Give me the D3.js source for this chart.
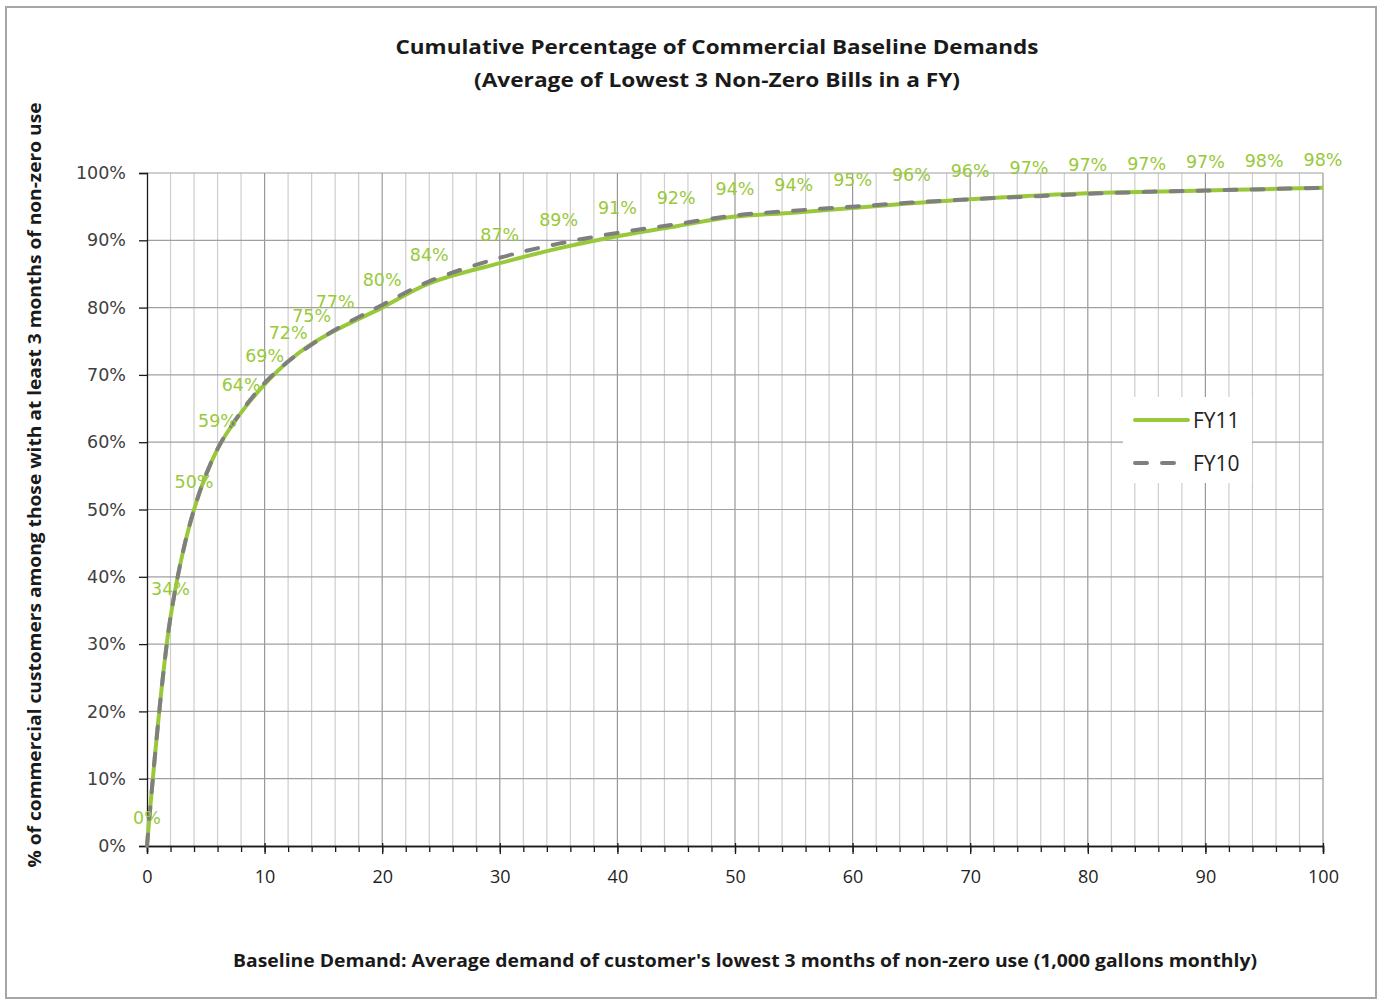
<!DOCTYPE html>
<html>
<head>
<meta charset="utf-8">
<script src="https://cdn.jsdelivr.net/npm/d3@7"></script>
<style>
  html, body { margin: 0; padding: 0; background: #fff; }
  svg { display: block; }
</style>
</head>
<body>
<svg id="chart" width="1382" height="1001"></svg>
<script>
// Baseline demand thresholds (1,000 gallons monthly)
const demand = [0, 2, 4, 6, 8, 10, 12, 14, 16, 20, 24, 30, 35, 40, 45, 50, 55, 60, 65, 70, 75, 80, 85, 90, 95, 100];
// Cumulative share of commercial customers at or below each threshold
const fy11 = [0, 0.34, 0.50, 0.59, 0.644, 0.686, 0.72, 0.746, 0.766, 0.80, 0.836, 0.866, 0.888, 0.906, 0.921, 0.9352, 0.941, 0.948, 0.9552, 0.961, 0.966, 0.970, 0.972, 0.974, 0.976, 0.978];
const fy10 = [0, 0.34, 0.50, 0.59, 0.645, 0.688, 0.72, 0.745, 0.767, 0.804, 0.839, 0.874, 0.895, 0.911, 0.924, 0.937, 0.944, 0.950, 0.956, 0.961, 0.965, 0.969, 0.972, 0.974, 0.976, 0.978];
const seriesNames = ["FY11", "FY10"];
const xTicks = [0, 10, 20, 30, 40, 50, 60, 70, 80, 90, 100];
const xMinorTicks = d3.range(0, 101, 2);
const yTicks = [0, 0.1, 0.2, 0.3, 0.4, 0.5, 0.6, 0.7, 0.8, 0.9, 1.0];

const titleLines = ["Cumulative Percentage of Commercial Baseline Demands", "(Average of Lowest 3 Non-Zero Bills in a FY)"];
const xTitle = "Baseline Demand: Average demand of customer's lowest 3 months of non-zero use (1,000 gallons monthly)";
const yTitle = "% of commercial customers among those with at least 3 months of non-zero use";

const GREEN = "#99c93a";
const GRAY = "#7f7f7f";
const pct = d3.format(".0%");

const svg = d3.select("#chart");
const plot = { left: 147, top: 173, right: 1323, bottom: 846 };

// outer chart frame
svg.append("rect")
  .attr("x", 6).attr("y", 7).attr("width", 1370).attr("height", 991)
  .attr("fill", "#fff").attr("stroke", "#a6a6a6").attr("stroke-width", 2);

const x = d3.scaleLinear().domain([0, 100]).range([plot.left, plot.right]);
const y = d3.scaleLinear().domain([0, 1]).range([plot.bottom, plot.top]);

// gridlines
const grid = svg.append("g");
grid.selectAll("line.vminor").data(xMinorTicks.filter(d => d % 10 !== 0)).join("line")
  .attr("x1", d => x(d)).attr("x2", d => x(d))
  .attr("y1", plot.top).attr("y2", plot.bottom)
  .attr("stroke", "#cdcdcd").attr("stroke-width", 1.2);
grid.selectAll("line.vmajor").data(xTicks.filter(d => d > 0)).join("line")
  .attr("x1", d => x(d)).attr("x2", d => x(d))
  .attr("y1", plot.top).attr("y2", plot.bottom)
  .attr("stroke", "#989898").attr("stroke-width", 1.2);
grid.selectAll("line.h").data(yTicks.filter(d => d > 0)).join("line")
  .attr("x1", plot.left).attr("x2", plot.right)
  .attr("y1", d => y(d)).attr("y2", d => y(d))
  .attr("stroke", "#a0a0a0").attr("stroke-width", 1.2);

// axes
const yAxis = svg.append("g")
  .attr("transform", `translate(${plot.left},0)`)
  .call(d3.axisLeft(y).tickValues(yTicks).tickFormat(pct).tickSize(8).tickPadding(13));
yAxis.selectAll("text")
  .attr("font-family", "DejaVu Sans, Verdana, sans-serif").attr("font-size", 17.5).attr("fill", "#404040");

const xMinor = svg.append("g")
  .attr("transform", `translate(0,${plot.bottom})`)
  .call(d3.axisBottom(x).tickValues(xMinorTicks).tickFormat("").tickSize(6));
const xAxis = svg.append("g")
  .attr("transform", `translate(0,${plot.bottom})`)
  .call(d3.axisBottom(x).tickValues(xTicks).tickFormat(d3.format("d")).tickSize(8).tickPadding(16));
xAxis.selectAll(".tick line").attr("y1", -3);
xAxis.selectAll("text")
  .attr("font-family", "Open Sans, sans-serif").attr("font-size", 18).attr("fill", "#1f1f1f");
[yAxis, xMinor, xAxis].forEach(g => {
  g.select(".domain").attr("stroke", "#1a1a1a").attr("stroke-width", 1.3);
  g.selectAll(".tick line").attr("stroke", "#1a1a1a").attr("stroke-width", 1.3);
});

// series, drawn as smoothed lines through the thresholds
const rows = (vals) => demand.map((d, i) => ({ x: d, y: vals[i] }));
const line = d3.line().x(d => x(d.x)).y(d => y(d.y)).curve(d3.curveCatmullRom.alpha(0.5));

svg.append("path").datum(rows(fy11))
  .attr("d", line).attr("fill", "none")
  .attr("stroke", GREEN).attr("stroke-width", 4).attr("stroke-linejoin", "round");
svg.append("path").datum(rows(fy10))
  .attr("d", line).attr("fill", "none")
  .attr("stroke", GRAY).attr("stroke-width", 4)
  .attr("stroke-dasharray", "12,15").attr("stroke-linecap", "round");

// FY11 value labels above each point
svg.append("g").selectAll("text").data(rows(fy11)).join("text")
  .attr("x", d => x(d.x)).attr("y", d => y(d.y) - 22)
  .attr("text-anchor", "middle")
  .attr("font-family", "DejaVu Sans, Verdana, sans-serif").attr("font-size", 17.5)
  .attr("fill", GREEN)
  .text(d => pct(d.y));

// legend
const legend = svg.append("g");
legend.append("rect").attr("x", 1123).attr("y", 397).attr("width", 129).attr("height", 86).attr("fill", "#fff");
const legendItems = legend.selectAll("g").data(seriesNames).join("g")
  .attr("transform", (d, i) => `translate(1133,${420 + i * 43})`);
legendItems.append("line")
  .attr("x1", 2).attr("x2", (d, i) => i === 0 ? 55 : 44)
  .attr("stroke", (d, i) => i === 0 ? GREEN : GRAY)
  .attr("stroke-width", 4)
  .attr("stroke-linecap", "round")
  .attr("stroke-dasharray", (d, i) => i === 0 ? null : "12,15");
legendItems.append("text")
  .attr("x", 60).attr("dy", "0.36em")
  .attr("font-family", "Open Sans, sans-serif").attr("font-size", 21).attr("fill", "#222")
  .text(d => d);

// titles
const title = svg.append("g")
  .attr("font-family", "Open Sans, sans-serif").attr("font-weight", "bold")
  .attr("fill", "#1a1a1a").attr("text-anchor", "middle");
title.append("text").attr("x", 717).attr("y", 54).attr("font-size", 20)
  .attr("textLength", 643).attr("lengthAdjust", "spacingAndGlyphs").text(titleLines[0]);
title.append("text").attr("x", 717).attr("y", 87).attr("font-size", 20)
  .attr("textLength", 486).attr("lengthAdjust", "spacingAndGlyphs").text(titleLines[1]);

svg.append("text")
  .attr("x", 745).attr("y", 967)
  .attr("text-anchor", "middle")
  .attr("font-family", "Open Sans, sans-serif").attr("font-weight", "bold")
  .attr("font-size", 18.5).attr("fill", "#1a1a1a")
  .attr("textLength", 1024).attr("lengthAdjust", "spacingAndGlyphs")
  .text(xTitle);

svg.append("text")
  .attr("transform", "translate(41,485) rotate(-90)")
  .attr("text-anchor", "middle")
  .attr("font-family", "Open Sans, sans-serif").attr("font-weight", "bold")
  .attr("font-size", 18.5).attr("fill", "#1a1a1a")
  .attr("textLength", 765).attr("lengthAdjust", "spacingAndGlyphs")
  .text(yTitle);
</script>
</body>
</html>
